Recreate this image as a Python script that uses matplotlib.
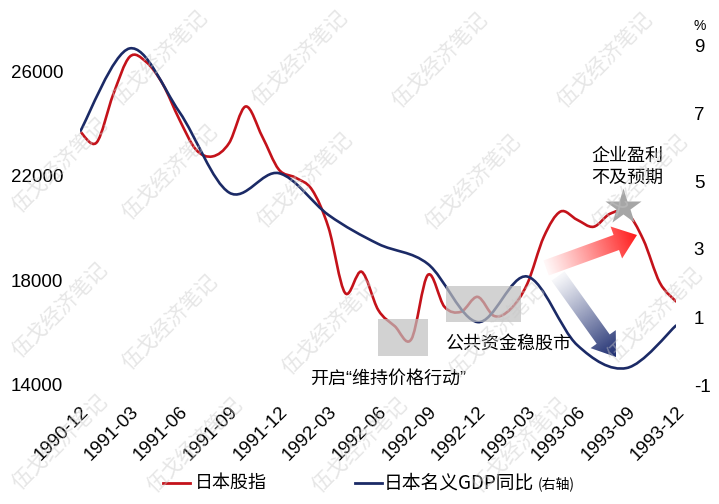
import matplotlib
matplotlib.use("Agg")
import numpy as np
import matplotlib.pyplot as plt
from matplotlib.path import Path
from matplotlib.patches import PathPatch, Polygon, Rectangle
from matplotlib.colors import to_rgb

W, H = 719, 504
CJK = ['Noto Sans CJK SC', 'DejaVu Sans']
NUM = ['Liberation Sans', 'DejaVu Sans']
plt.rcParams['font.family'] = CJK

# Japanese stock index, monthly 1990-12 .. 1993-12 (left axis)
nikkei = [23700, 23270, 25100, 26550, 26350, 25500, 24150, 23000, 22740, 23250,
          24650, 23500, 22240, 21930, 21470, 20020, 17520, 18330, 16870, 16250,
          15750, 18210, 16990, 16800, 17370, 16640, 16910, 17870, 19670, 20630,
          20320, 20050, 20550, 20590, 19560, 17910, 17180]
# nominal GDP yoy %, quarterly (right axis)
gdp_yoy = [6.45, 8.90, 7.03, 4.66, 5.23, 4.00, 3.15, 2.56, 0.85, 2.19, 0.18, -0.50, 0.76]

tick_labels = ['1990-12', '1991-03', '1991-06', '1991-09', '1991-12', '1992-03',
               '1992-06', '1992-09', '1992-12', '1993-03', '1993-06', '1993-09', '1993-12']
left_ticks = [14000, 18000, 22000, 26000]
right_ticks = [-1, 1, 3, 5, 7, 9]

RED = '#c4121a'
NAVY = '#1b2a66'


def smooth_path(x, y):
    # excel style smoothed line, bezier through every point
    pts = np.column_stack([x, y]).astype(float)
    ext = np.vstack([pts[0], pts, pts[-1]])
    verts = [pts[0]]
    codes = [Path.MOVETO]
    for i in range(len(pts) - 1):
        p0, p1, p2, p3 = ext[i], ext[i + 1], ext[i + 2], ext[i + 3]
        verts += [p1 + (p2 - p0) / 6, p2 - (p3 - p1) / 6, p2]
        codes += [Path.CURVE4] * 3
    return Path(verts, codes)


def grad_arrow(ax, tail, tip, color, shaft=16, head_w=34, head_len=22):
    p0, p1 = np.array(tail, float), np.array(tip, float)
    d = p1 - p0
    L = np.hypot(*d)
    u = d / L
    nv = np.array([-u[1], u[0]])
    b = p1 - u * head_len
    pts = np.array([p0 + nv * shaft / 2, b + nv * shaft / 2, b + nv * head_w / 2, p1,
                    b - nv * head_w / 2, b - nv * shaft / 2, p0 - nv * shaft / 2])
    poly = Polygon(pts, closed=True, fc='none', ec='none')
    ax.add_patch(poly)
    x0, y0 = pts.min(0) - 1
    x1, y1 = pts.max(0) + 1
    gx, gy = np.meshgrid(np.linspace(x0, x1, 150), np.linspace(y0, y1, 150))
    t = np.clip(((gx - p0[0]) * u[0] + (gy - p0[1]) * u[1]) / L, 0, 1)
    img = np.zeros(gx.shape + (4,))
    img[..., :3] = to_rgb(color)
    img[..., 3] = 0.03 + 0.97 * t ** 1.1
    im = ax.imshow(img, extent=(x0, x1, y1, y0), origin='upper', aspect='auto',
                   interpolation='bilinear')
    im.set_clip_path(poly)


fig = plt.figure(figsize=(W / 100, H / 100), dpi=100)
ax = fig.add_axes([80 / W, 1 - 385 / H, (676.4 - 80) / W, 340 / H])
ax2 = ax.twinx()

x_month = np.arange(len(nikkei))
x_q = np.arange(0, len(nikkei), 3)
ax.add_patch(PathPatch(smooth_path(x_month, nikkei), fill=False, edgecolor=RED, lw=1.9))
ax2.add_patch(PathPatch(smooth_path(x_q, gdp_yoy), fill=False, edgecolor=NAVY, lw=1.9))

ax.set_xlim(0, len(nikkei) - 1)
ax.set_ylim(14000, 27000)
ax2.set_ylim(-1, 9)

ax.set_yticks(left_ticks)
ax.set_yticklabels([str(v) for v in left_ticks], fontfamily=NUM, fontsize=13.5)
ax2.set_yticks(right_ticks)
ax2.set_yticklabels([str(v) for v in right_ticks], fontfamily=NUM, fontsize=13.5)
ax.set_xticks(x_q)
ax.set_xticklabels(tick_labels, rotation=45, ha='right', va='top',
                   rotation_mode='anchor', fontfamily=NUM, fontsize=13.5)
ax.tick_params(axis='y', length=0, pad=12)
ax2.tick_params(axis='y', length=0, pad=12.5)
ax.tick_params(axis='x', length=0, pad=13)
for a in (ax, ax2):
    for s in a.spines.values():
        s.set_visible(False)

# overlay in picture pixels for the notes
ov = fig.add_axes([0, 0, 1, 1], zorder=5)
ov.axis('off')
ov.set_autoscale_on(False)
ov.set_xlim(0, W)
ov.set_ylim(H, 0)

ov.add_patch(Rectangle((378, 319), 50, 37, fc='#bfbfbf', alpha=0.7, lw=0))
ov.add_patch(Rectangle((446, 286), 75, 36, fc='#bfbfbf', alpha=0.7, lw=0))
# latin font first so the curly quotes stay narrow
ov.text(310, 379, '开启“维持价格行动”', va='center', ha='left', fontsize=13,
        fontfamily=['Liberation Sans', 'Noto Sans CJK SC'])
ov.text(445, 344, '公共资金稳股市', va='center', ha='left', fontsize=13)
ov.text(627.5, 167.5, '企业盈利\n不及预期', va='center', ha='center', fontsize=13,
        linespacing=1.35)
ov.plot(623, 207, marker='*', ms=27, color='#a6a6a6', mec='none')

grad_arrow(ov, (546, 268), (637, 235), '#ff1a1a', shaft=16, head_w=34, head_len=22)
grad_arrow(ov, (558, 276), (616, 357), '#1a2a6e', shaft=16, head_w=31, head_len=22)

ov.text(700, 26, '%', ha='center', va='center', fontsize=10, fontfamily=NUM)

# legend
ov.plot([163, 190], [483, 483], color=RED, lw=2)
ov.text(195, 483, '日本股指', va='center', ha='left', fontsize=13)
ov.plot([355, 382], [483, 483], color=NAVY, lw=2)
ov.text(384, 483, '日本名义GDP同比', va='center', ha='left', fontsize=13.5)
ov.text(538, 484, '(右轴)', va='center', ha='left', fontsize=10)

# watermark, kept inside the picture
marks = [(160, 58), (300, 58), (440, 60), (605, 60),
         (60, 165), (170, 172), (305, 180), (473, 182), (640, 182),
         (60, 310), (170, 322), (330, 327), (497, 330), (655, 315),
         (60, 442), (195, 445), (360, 445), (520, 445)]
for mx, my in marks:
    ov.text(mx, my, '伍戈经济笔记', rotation=45, ha='center', va='center',
            fontsize=15, color='#c8c8c8', alpha=0.45, zorder=10)

fig.savefig('out.png', dpi=100)
